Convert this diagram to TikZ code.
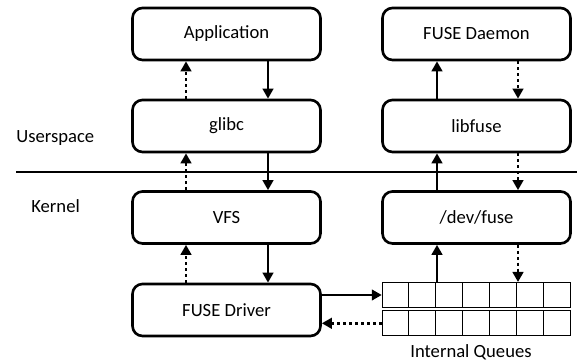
\documentclass[tikz,border=0pt]{standalone}
\usepackage{fontspec}
\setmainfont{Carlito}
\usetikzlibrary{calc,backgrounds,arrows.meta}

\tikzset{%
    layer/.style={draw, line width=1.5pt, rounded corners=0.2cm,%
        minimum width=3.76cm, minimum height=1.04cm,%
        font=\fontsize{10.6}{12}\selectfont},%
    queue/.style={draw, line width=0.55pt, minimum width=3.77cm,%
        minimum height=0.5cm, inner sep=0pt},%
    call/.style={line width=1.6pt, -{Triangle[width=6pt,length=5.7pt]}},%
    reply/.style={call, dash pattern=on 1.7pt off 1.7pt},%
    zone/.style={anchor=base west, inner sep=0pt,%
        font=\fontsize{10.6}{12}\selectfont}%
}

\begin{document}
\begin{tikzpicture}[%
    show background rectangle,%
    background rectangle/.style={fill=white}%
    ]
    \useasboundingbox (0,0) rectangle (11.54,7.2);

    %
    % Définitions
    %
    \pgfmathsetmacro{\xl}{4.53};%
    \pgfmathsetmacro{\xr}{9.53};%
    \pgfmathsetmacro{\yapp}{6.52};%
    \pgfmathsetmacro{\ylib}{4.68};%
    \pgfmathsetmacro{\ysys}{2.85};%
    \pgfmathsetmacro{\ydrv}{1.0};%
    \pgfmathsetmacro{\ysep}{3.76};%

    % Colonnes des flèches
    \coordinate (lup) at (3.72,0);
    \coordinate (ldown) at (5.36,0);
    \coordinate (rup) at (8.74,0);
    \coordinate (rdown) at (10.36,0);

    % Séparation user / kernel
    \coordinate (sepl) at (0.32,\ysep);
    \coordinate (sepr) at (11.54,\ysep);
    \draw[line width=1.4pt] (sepl) -- (sepr);
    \node[zone] (user) at (0.32,4.346) {Userspace};
    \node[zone] (kern) at (0.62,2.946) {Kernel};

    % Pile de gauche
    \node[layer] (app) at (\xl,\yapp) {Application};
    \node[layer] (glibc) at (\xl,\ylib) {glibc};
    \node[layer] (vfs) at (\xl,\ysys) {VFS};
    \node[layer] (driver) at (\xl,\ydrv) {FUSE Driver};

    % Pile de droite
    \node[layer] (daemon) at (\xr,\yapp) {FUSE Daemon};
    \node[layer] (libfuse) at (\xr,\ylib) {libfuse};
    \node[layer] (devfuse) at (\xr,\ysys) {/dev/fuse};

    % Files internes
    \node[queue] (qin) at (\xr,1.30) {};
    \node[queue] (qout) at (\xr,0.734) {};
    \foreach \i in {1,...,6} {%
        \draw[line width=0.55pt] ($(qin.north west)+(\i*0.5386,0)$) -- ($(qin.south west)+(\i*0.5386,0)$);
        \draw[line width=0.55pt] ($(qout.north west)+(\i*0.5386,0)$) -- ($(qout.south west)+(\i*0.5386,0)$);
    }
    \node[anchor=base, font=\fontsize{10.6}{12}\selectfont] (qlabel) at (9.42,0.046) {Internal Queues};

    % Requêtes (descente)
    \draw[call] (app.south -| ldown) -- (glibc.north -| ldown);
    \draw[call] (glibc.south -| ldown) -- (vfs.north -| ldown);
    \draw[call] (vfs.south -| ldown) -- (driver.north -| ldown);
    \draw[call] (driver.east |- qin.west) -- (qin.west);
    \draw[call] (qin.north -| rup) -- (devfuse.south -| rup);
    \draw[call] (devfuse.north -| rup) -- (libfuse.south -| rup);
    \draw[call] (libfuse.north -| rup) -- (daemon.south -| rup);

    % Réponses (remontée)
    \draw[reply] (daemon.south -| rdown) -- (libfuse.north -| rdown);
    \draw[reply] (libfuse.south -| rdown) -- (devfuse.north -| rdown);
    \draw[reply] (devfuse.south -| rdown) -- (qin.north -| rdown);
    \draw[reply] (qout.west) -- (driver.east |- qout.west);
    \draw[reply] (driver.north -| lup) -- (vfs.south -| lup);
    \draw[reply] (vfs.north -| lup) -- (glibc.south -| lup);
    \draw[reply] (glibc.north -| lup) -- (app.south -| lup);

\end{tikzpicture}
\end{document}
